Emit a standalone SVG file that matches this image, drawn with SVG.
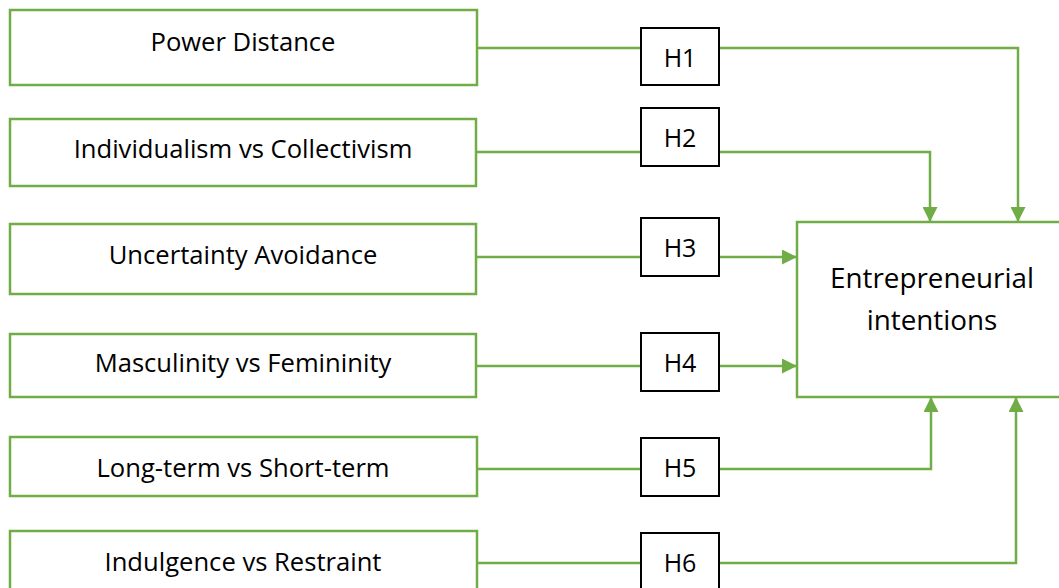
<svg xmlns="http://www.w3.org/2000/svg" width="1059" height="588" viewBox="0 0 1059 588">
<defs>
<style>
.fac{fill:#fff;stroke:#70AD47;stroke-width:2.5}
.h{fill:#fff;stroke:#000;stroke-width:2}
.t{font-family:"Open Sans","Noto Sans",sans-serif;font-size:25.6px;fill:#000;text-anchor:middle}
.hl{font-size:25px}
.big{font-size:27.8px}
.c{fill:none;stroke:#70AD47;stroke-width:2.5}
</style>
<marker id="ah" viewBox="0 0 10 10" refX="10" refY="5" markerWidth="6" markerHeight="6" markerUnits="strokeWidth" orient="auto">
<path d="M0,0 L10,5 L0,10 Z" fill="#70AD47"/>
</marker>
</defs>
<rect width="1059" height="588" fill="#fff"/>
<g id="connectors">
<path class="c" d="M477,48 H641"/>
<path class="c" d="M719,48 H1018 V222" marker-end="url(#ah)"/>
<path class="c" d="M476,152 H641"/>
<path class="c" d="M719,152 H930 V222" marker-end="url(#ah)"/>
<path class="c" d="M476,257 H641"/>
<path class="c" d="M719,257 H797" marker-end="url(#ah)"/>
<path class="c" d="M476,366 H641"/>
<path class="c" d="M719,366 H797" marker-end="url(#ah)"/>
<path class="c" d="M477,469 H641"/>
<path class="c" d="M719,469 H931 V397" marker-end="url(#ah)"/>
<path class="c" d="M477,563 H641"/>
<path class="c" d="M719,563 H1016 V397" marker-end="url(#ah)"/>
</g>
<g id="n1"><rect class="fac" x="10" y="10" width="467" height="75"/><text class="t" x="243" y="51">Power Distance</text></g>
<g id="n2"><rect class="fac" x="10" y="119" width="466" height="67"/><text class="t" x="243" y="158">Individualism vs Collectivism</text></g>
<g id="n3"><rect class="fac" x="10" y="224" width="466" height="70"/><text class="t" x="243" y="264">Uncertainty Avoidance</text></g>
<g id="n4"><rect class="fac" x="10" y="334" width="466" height="63"/><text class="t" x="243" y="372">Masculinity vs Femininity</text></g>
<g id="n5"><rect class="fac" x="10" y="437" width="467" height="59"/><text class="t" x="243" y="477">Long-term vs Short-term</text></g>
<g id="n6"><rect class="fac" x="10" y="531" width="467" height="70"/><text class="t" x="243" y="571">Indulgence vs Restraint</text></g>
<g id="h1"><rect class="h" x="641" y="28" width="78" height="57"/><text class="t hl" x="680" y="67">H1</text></g>
<g id="h2"><rect class="h" x="641" y="108" width="78" height="58"/><text class="t hl" x="680" y="147">H2</text></g>
<g id="h3"><rect class="h" x="641" y="218" width="78" height="58"/><text class="t hl" x="680" y="257">H3</text></g>
<g id="h4"><rect class="h" x="641" y="333" width="78" height="58"/><text class="t hl" x="680" y="372">H4</text></g>
<g id="h5"><rect class="h" x="641" y="438" width="78" height="58"/><text class="t hl" x="680" y="477">H5</text></g>
<g id="h6"><rect class="h" x="641" y="533" width="78" height="70"/><text class="t hl" x="680" y="572">H6</text></g>
<g id="ei"><rect class="fac" x="797" y="222" width="280" height="175"/><text class="t big" x="932" y="288">Entrepreneurial</text><text class="t big" x="932" y="330">intentions</text></g>
</svg>
